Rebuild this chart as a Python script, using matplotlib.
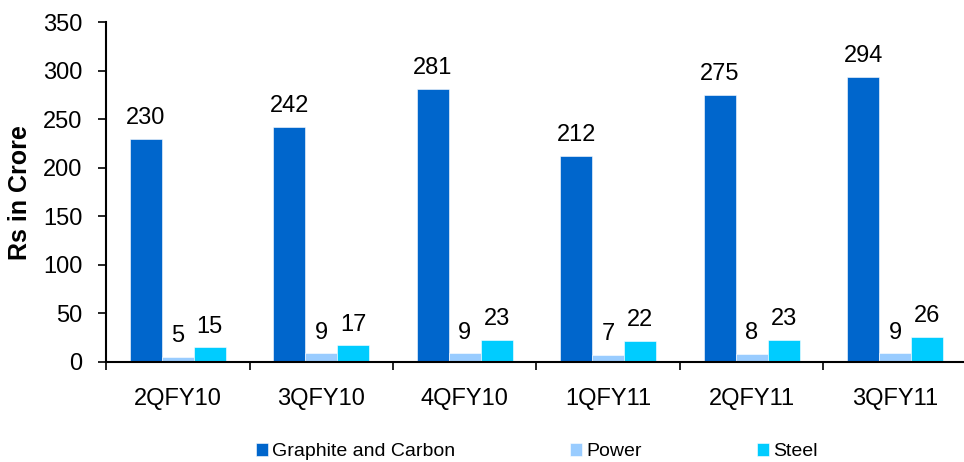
import numpy as np
import matplotlib.pyplot as plt

plt.rcParams['font.family'] = ['Liberation Sans', 'DejaVu Sans']

quarters = ['2QFY10', '3QFY10', '4QFY10', '1QFY11', '2QFY11', '3QFY11']
graphite = [230, 242, 281, 212, 275, 294]
power = [5, 9, 9, 7, 8, 9]
steel = [15, 17, 23, 22, 23, 26]

series = [('Graphite and Carbon', graphite, '#0066CC'),
          ('Power', power, '#99CCFF'),
          ('Steel', steel, '#00CCFF')]

fig = plt.figure(figsize=(9.64, 4.62), dpi=100)
ax = fig.add_axes([0.110, 0.2165, 0.893, 0.7355])

x = np.arange(len(quarters))
width = 0.223
for i, (name, vals, color) in enumerate(series):
    pos = x + (i - 1) * width
    bars = ax.bar(pos, vals, width, color=color, label=name,
                  edgecolor='white', linewidth=0.4)
    for b, v in zip(bars, vals):
        ax.annotate(str(v), (b.get_x() + b.get_width() / 2, v),
                    xytext=(0, 7), textcoords='offset points',
                    ha='center', va='bottom', fontsize=17)

ax.set_xlim(-0.5, len(quarters) - 0.5)
ax.set_ylim(0, 350)
ax.set_yticks(range(0, 351, 50))
ax.set_xticks(x)
ax.set_xticklabels(quarters)
ax.set_xticks(np.arange(-0.5, len(quarters) - 0.5, 1), minor=True)
ax.tick_params(axis='x', which='major', length=0, pad=19, labelsize=17)
ax.tick_params(axis='x', which='minor', length=6, width=1.2, direction='out')
ax.tick_params(axis='y', length=6, width=1.2, direction='out', pad=11, labelsize=17)

for side in ('top', 'right'):
    ax.spines[side].set_visible(False)
ax.spines['left'].set_linewidth(1.5)
ax.spines['bottom'].set_linewidth(1.5)

ax.set_ylabel('Rs in Crore', fontsize=18, fontweight='bold', labelpad=8)

fig.legend(loc='center', bbox_to_anchor=(0.557, 0.022), ncol=3, frameon=False,
           fontsize=14, handlelength=0.6, handleheight=0.6, handletextpad=0.25,
           columnspacing=5.9)

fig.savefig('out.png', dpi=100)
